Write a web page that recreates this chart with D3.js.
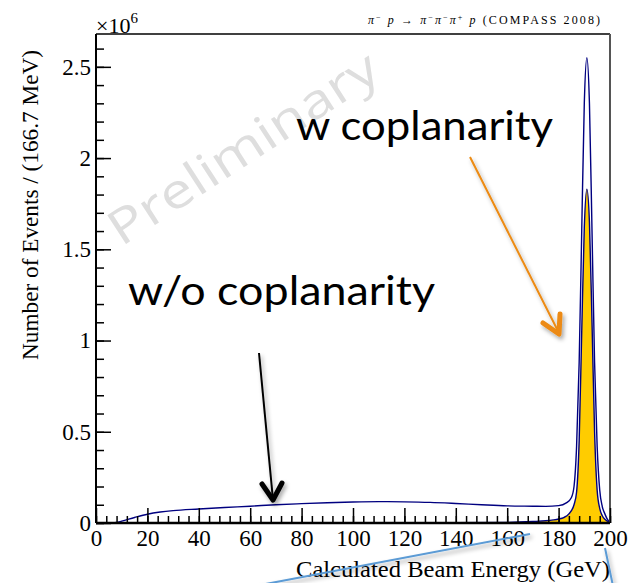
<!DOCTYPE html>
<html>
<head>
<meta charset="utf-8">
<script src="https://cdn.jsdelivr.net/npm/d3@7"></script>
<style>
  body { margin: 0; background: #fff; }
  svg { display: block; }
</style>
</head>
<body>
<div id="chart"></div>
<script>
// beam energy spectrum, values in units of 10^6 events
const energy_wo = [0, 5, 8, 10, 15, 20, 25, 30, 40, 50, 60, 70, 80, 90, 100, 110, 120, 130, 140, 150, 160, 170,
  175, 180, 183, 185, 186, 187, 188, 189, 190, 191, 192, 193, 194, 195, 196, 197, 198, 199, 200];
const events_wo = [0, 0, 0.003, 0.01, 0.03, 0.048, 0.06, 0.068, 0.077, 0.085, 0.092, 0.1, 0.106, 0.111, 0.115, 0.117, 0.116, 0.113, 0.107, 0.1, 0.094, 0.092,
  0.091, 0.095, 0.11, 0.14, 0.2, 0.42, 0.88, 1.6, 2.3, 2.55, 2.3, 1.6, 0.88, 0.42, 0.18, 0.09, 0.05, 0.02, 0.005];

const energy_w = [0, 100, 140, 160, 170, 175, 178, 180, 182, 184, 186, 187, 188, 189, 190, 191, 192, 193, 194, 195, 196, 197, 198, 199, 200];
const events_w = [0, 0, 0.001, 0.003, 0.008, 0.012, 0.017, 0.022, 0.03, 0.05, 0.1, 0.17, 0.45, 1.05, 1.62, 1.83, 1.65, 1.1, 0.5, 0.18, 0.08, 0.04, 0.02, 0.01, 0.003];

const xTicks = [0, 20, 40, 60, 80, 100, 120, 140, 160, 180, 200];
const yTicks = [0, 0.5, 1, 1.5, 2, 2.5];

const W = 631, H = 583;
const margin = { top: 34, right: 21, bottom: 60, left: 96 };
const serif = "'Liberation Serif', 'Times New Roman', serif";

const svg = d3.select("#chart").append("svg")
  .attr("width", W)
  .attr("height", H);

const defs = svg.append("defs");
const shadow = defs.append("filter").attr("id", "shadow")
  .attr("x", "-50%").attr("y", "-50%").attr("width", "200%").attr("height", "200%");
shadow.append("feDropShadow")
  .attr("dx", 2).attr("dy", 3).attr("stdDeviation", 2)
  .attr("flood-color", "#000").attr("flood-opacity", 0.35);

var x = d3.scaleLinear().domain([0, 200]).range([margin.left, W - margin.right]);
var y = d3.scaleLinear().domain([0, 2.68]).range([H - margin.bottom, margin.top]);
const y0 = y(0);

// watermark
svg.append("text")
  .attr("transform", "translate(252,162) rotate(-33)")
  .attr("text-anchor", "middle")
  .attr("font-family", "'Open Sans', Lato, sans-serif")
  .attr("font-size", "48px")
  .attr("fill", "#dedede")
  .attr("textLength", 312)
  .attr("lengthAdjust", "spacingAndGlyphs")
  .text("Preliminary");

const wo = energy_wo.map((e, i) => ({ e: e, v: events_wo[i] }));
const wc = energy_w.map((e, i) => ({ e: e, v: events_w[i] }));

svg.append("path")
  .datum(wc)
  .attr("fill", "#ffcc00")
  .attr("d", d3.area().curve(d3.curveMonotoneX).x(d => x(d.e)).y0(y0).y1(d => y(d.v)));

svg.append("path")
  .datum(wc)
  .attr("fill", "none")
  .attr("stroke", "#000080")
  .attr("stroke-width", 1.4)
  .attr("d", d3.line().curve(d3.curveMonotoneX).x(d => x(d.e)).y(d => y(d.v)));

svg.append("path")
  .datum(wo)
  .attr("fill", "none")
  .attr("stroke", "#000080")
  .attr("stroke-width", 1.4)
  .attr("d", d3.line().curve(d3.curveMonotoneX).x(d => x(d.e)).y(d => y(d.v)));

// frame
svg.append("line")
  .attr("x1", x(0)).attr("x2", x(200)).attr("y1", margin.top).attr("y2", margin.top)
  .attr("stroke", "#000").attr("stroke-width", 1.5);
svg.append("line")
  .attr("x1", x(200)).attr("x2", x(200)).attr("y1", margin.top).attr("y2", y0)
  .attr("stroke", "#555").attr("stroke-width", 2);

const fmt = d => String(d);

// minor ticks
svg.append("g")
  .attr("transform", "translate(" + x(0) + ",0)")
  .call(d3.axisLeft(y).tickValues(d3.range(0, 2.65, 0.1)).tickSize(-8).tickFormat(""))
  .call(g => g.select(".domain").remove())
  .selectAll("line").attr("stroke-width", 1.5);
svg.append("g")
  .attr("transform", "translate(0," + y0 + ")")
  .call(d3.axisBottom(x).tickValues(d3.range(0, 201, 4)).tickSize(-7).tickFormat(""))
  .call(g => g.select(".domain").remove())
  .selectAll("line").attr("stroke-width", 1.5);

// major ticks and labels
const yAxis = svg.append("g")
  .attr("transform", "translate(" + x(0) + ",0)")
  .call(d3.axisLeft(y).tickValues(yTicks).tickSize(-15).tickPadding(5).tickFormat(fmt));
yAxis.select(".domain").attr("stroke-width", 2).attr("d", "M0," + margin.top + "V" + y0);
yAxis.selectAll("line").attr("stroke-width", 1.5);
yAxis.selectAll("text")
  .attr("font-family", serif)
  .attr("font-size", "23px")
  .attr("fill", "#000");

const xAxis = svg.append("g")
  .attr("transform", "translate(0," + y0 + ")")
  .call(d3.axisBottom(x).tickValues(xTicks).tickSize(-15).tickPadding(7).tickFormat(fmt));
xAxis.select(".domain").attr("stroke-width", 2.5).attr("d", "M" + x(0) + ",0H" + x(200));
xAxis.selectAll("line").attr("stroke-width", 1.5);
xAxis.selectAll("text")
  .attr("font-family", serif)
  .attr("font-size", "23px")
  .attr("fill", "#000");

// axis titles
svg.append("text")
  .attr("x", x(200))
  .attr("y", 577)
  .attr("text-anchor", "end")
  .attr("font-family", serif)
  .attr("font-size", "23px")
  .attr("textLength", 314)
  .attr("lengthAdjust", "spacingAndGlyphs")
  .text("Calculated Beam Energy (GeV)");

svg.append("text")
  .attr("transform", "translate(38,50) rotate(-90)")
  .attr("text-anchor", "end")
  .attr("font-family", serif)
  .attr("font-size", "23px")
  .attr("textLength", 310)
  .attr("lengthAdjust", "spacingAndGlyphs")
  .text("Number of Events / (166.7 MeV)");

const mult = svg.append("text")
  .attr("x", x(0))
  .attr("y", 33)
  .attr("font-family", serif)
  .attr("font-size", "22px");
mult.append("tspan").text("\u00d710");
mult.append("tspan").attr("dy", -10).attr("font-size", "15px").text("6");

// reaction label
const title = svg.append("text")
  .attr("x", 368)
  .attr("y", 24)
  .attr("font-family", serif)
  .attr("font-size", "12px")
  .attr("textLength", 232)
  .attr("lengthAdjust", "spacing");
const sup = (t) => title.append("tspan").attr("dy", -4).attr("font-size", "8px").text(t);
const base = (t, italic) => title.append("tspan").attr("dy", 4).attr("font-style", italic ? "italic" : "normal").text(t);
title.append("tspan").attr("font-style", "italic").text("\u03c0");
sup("\u2212");
base(" p \u2192 \u03c0", true);
sup("\u2212");
base("\u03c0", true);
sup("\u2212");
base("\u03c0", true);
sup("+");
base(" p", true);
base(" (COMPASS 2008)", false).attr("dy", 0);

// annotations
svg.append("text")
  .attr("x", 296).attr("y", 140)
  .attr("font-family", "Lato, 'Open Sans', sans-serif")
  .attr("font-size", "40px")
  .attr("textLength", 257)
  .attr("lengthAdjust", "spacingAndGlyphs")
  .text("w coplanarity");

svg.append("text")
  .attr("x", 128).attr("y", 305)
  .attr("font-family", "Lato, 'Open Sans', sans-serif")
  .attr("font-size", "40px")
  .attr("textLength", 307)
  .attr("lengthAdjust", "spacingAndGlyphs")
  .text("w/o coplanarity");

const orange = svg.append("g").attr("filter", "url(#shadow)");
orange.append("line")
  .attr("x1", 470).attr("y1", 157).attr("x2", 559).attr("y2", 333)
  .attr("stroke", "#ec8a12").attr("stroke-width", 2);
orange.append("path")
  .attr("d", "M543,323L559,334L560,314")
  .attr("fill", "none").attr("stroke", "#ec8a12").attr("stroke-width", 5)
  .attr("stroke-linecap", "round").attr("stroke-linejoin", "round");

const black = svg.append("g").attr("filter", "url(#shadow)");
black.append("line")
  .attr("x1", 259).attr("y1", 353).attr("x2", 273).attr("y2", 500)
  .attr("stroke", "#000").attr("stroke-width", 2);
black.append("path")
  .attr("d", "M262,484L273,500L282,483")
  .attr("fill", "none").attr("stroke", "#000").attr("stroke-width", 5)
  .attr("stroke-linecap", "round").attr("stroke-linejoin", "round");

// callout lines
const blue = svg.append("g").attr("filter", "url(#shadow)")
  .attr("stroke", "#5b9bd5").attr("stroke-width", 2);
blue.append("line").attr("x1", 255).attr("y1", 586).attr("x2", 530).attr("y2", 534);
blue.append("line").attr("x1", 605).attr("y1", 548).attr("x2", 613).attr("y2", 586);
</script>
</body>
</html>
